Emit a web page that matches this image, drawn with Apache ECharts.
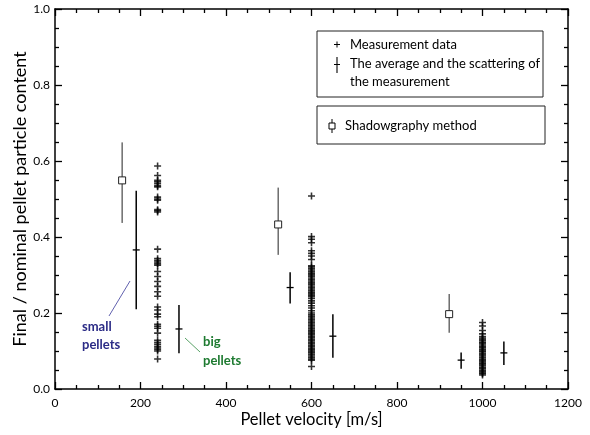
<!DOCTYPE html>
<html><head><meta charset="utf-8">
<script src="https://cdn.jsdelivr.net/npm/echarts@6/dist/echarts.min.js"></script>
<style>html,body{margin:0;padding:0;background:#fff}#c{width:590px;height:435px}</style>
</head><body><div id="c"></div>
<script>
// Measurement data (individual points)
const meas240 = [0.587, 0.562, 0.549, 0.545, 0.540, 0.535, 0.532, 0.505, 0.500, 0.497, 0.472, 0.469, 0.466,
  0.368, 0.343, 0.338, 0.334, 0.330, 0.326, 0.309, 0.296, 0.283, 0.270, 0.256, 0.244, 0.216, 0.208, 0.197, 0.190,
  0.170, 0.165, 0.160, 0.147, 0.128, 0.122, 0.117, 0.112, 0.108, 0.104, 0.100, 0.079];
const meas600 = [0.508, 0.401, 0.394, 0.385, 0.364, 0.357, 0.350, 0.341, 0.324, 0.321, 0.317, 0.313, 0.309, 0.305,
  0.301, 0.297, 0.292, 0.288, 0.284, 0.280, 0.276, 0.271, 0.267, 0.263, 0.259, 0.255, 0.251, 0.247, 0.243, 0.238,
  0.232, 0.226, 0.219, 0.213, 0.206, 0.200, 0.195, 0.191, 0.187, 0.183, 0.179, 0.175, 0.171, 0.167, 0.163, 0.159,
  0.155, 0.151, 0.147, 0.143, 0.139, 0.135, 0.131, 0.127, 0.123, 0.119, 0.115, 0.111, 0.107, 0.103, 0.099, 0.095,
  0.091, 0.087, 0.083, 0.079, 0.076, 0.059];
const meas1000 = [0.175, 0.166, 0.154, 0.145, 0.138, 0.134, 0.131, 0.127, 0.123, 0.120, 0.116, 0.112, 0.109, 0.105,
  0.101, 0.098, 0.094, 0.090, 0.087, 0.083, 0.079, 0.076, 0.072, 0.068, 0.065, 0.061, 0.057, 0.054, 0.050, 0.047,
  0.043, 0.040, 0.037];
const measGroups = [[240, meas240], [600, meas600], [1000, meas1000]];

// Average and scattering of the measurement
const avgX = [190, 290, 550, 650, 950, 1050];
const avgMean = [0.366, 0.158, 0.267, 0.139, 0.076, 0.095];
const avgLow = [0.210, 0.094, 0.225, 0.082, 0.053, 0.063];
const avgHigh = [0.522, 0.221, 0.307, 0.197, 0.096, 0.125];

// Shadowgraphy method
const shadowX = [157, 522, 922];
const shadowY = [0.549, 0.433, 0.197];
const shadowLow = [0.437, 0.353, 0.148];
const shadowHigh = [0.649, 0.530, 0.250];

// Axes
const xTicks = [0, 200, 400, 600, 800, 1000, 1200];
const yTicks = [0.0, 0.2, 0.4, 0.6, 0.8, 1.0];

const FONT = 'Lato';
const measData = [];
measGroups.forEach(([x, ys]) => ys.forEach(y => measData.push([x, y])));
const avgData = avgX.map((x, i) => [x, avgMean[i], avgLow[i], avgHigh[i]]);
const shadowData = shadowX.map((x, i) => [x, shadowY[i], shadowLow[i], shadowHigh[i]]);

const plus = 'path://M-0.9,-4H0.9V-0.9H4V0.9H0.9V4H-0.9V0.9H-4V-0.9H-0.9Z';

function axisCommon(extra) {
  return Object.assign({
    axisLine: {show: true, onZero: false, lineStyle: {color: '#000', width: 1.5}},
    axisTick: {show: true, inside: true, length: 7, lineStyle: {color: '#000', width: 1.3}},
    minorTick: {show: true, splitNumber: 4, length: 4, lineStyle: {color: '#000', width: 1.3}},
    splitLine: {show: false},
  }, extra);
}

const chart = echarts.init(document.getElementById('c'), null, {renderer: 'canvas'});
chart.setOption({
  animation: false,
  textStyle: {fontFamily: FONT},
  grid: {left: 55, right: 22, top: 9, bottom: 46, containLabel: false, outerBoundsMode: 'none'},
  xAxis: [
    axisCommon({type: 'value', min: xTicks[0], max: xTicks[xTicks.length - 1], interval: 200,
      axisLabel: {show: true, color: '#000', fontSize: 12, fontFamily: FONT, margin: 8, formatter: v => String(v)},
      name: 'Pellet velocity [m/s]', nameLocation: 'middle', nameGap: 22, nameMoveOverlap: false,
      nameTextStyle: {fontSize: 16.5, color: '#000', fontFamily: FONT, verticalAlign: 'top'}}),
    axisCommon({type: 'value', position: 'top', min: xTicks[0], max: xTicks[xTicks.length - 1], interval: 200,
      axisLabel: {show: false}})
  ],
  yAxis: [
    axisCommon({type: 'value', min: yTicks[0], max: yTicks[yTicks.length - 1], interval: 0.2,
      axisLabel: {show: true, color: '#000', fontSize: 12, fontFamily: FONT, margin: 5,
        formatter: v => v.toFixed(1)},
      name: 'Final / nominal pellet particle content', nameLocation: 'middle', nameGap: 26, nameMoveOverlap: false,
      nameTextStyle: {fontSize: 18, color: '#000', fontFamily: FONT}}),
    axisCommon({type: 'value', position: 'right', min: yTicks[0], max: yTicks[yTicks.length - 1], interval: 0.2,
      axisLabel: {show: false}})
  ],
  series: [
    {
      type: 'scatter', name: 'Measurement data', data: measData, symbol: plus, symbolSize: 7,
      itemStyle: {color: '#000'}, silent: true, z: 3
    },
    {
      type: 'custom', name: 'Average', data: avgData, silent: true, z: 4,
      renderItem: (params, api) => {
        const x = api.value(0);
        const m = api.coord([x, api.value(1)]);
        const lo = api.coord([x, api.value(2)]);
        const hi = api.coord([x, api.value(3)]);
        return {type: 'group', children: [
          {type: 'line', shape: {x1: m[0], y1: lo[1], x2: m[0], y2: hi[1]}, style: {stroke: '#000', lineWidth: 1.5}},
          {type: 'line', shape: {x1: m[0] - 3.5, y1: m[1], x2: m[0] + 3.5, y2: m[1]}, style: {stroke: '#000', lineWidth: 1.3}}
        ]};
      }
    },
    {
      type: 'custom', name: 'Shadowgraphy', data: shadowData, silent: true, z: 5,
      renderItem: (params, api) => {
        const x = api.value(0);
        const m = api.coord([x, api.value(1)]);
        const lo = api.coord([x, api.value(2)]);
        const hi = api.coord([x, api.value(3)]);
        return {type: 'group', children: [
          {type: 'line', shape: {x1: m[0], y1: lo[1], x2: m[0], y2: hi[1]}, style: {stroke: '#222', lineWidth: 1}},
          {type: 'rect', shape: {x: m[0] - 3.5, y: m[1] - 3.5, width: 7, height: 7},
            style: {fill: '#fff', stroke: '#222', lineWidth: 1}}
        ]};
      }
    }
  ],
  graphic: [
    // legend box 1
    {type: 'rect', shape: {x: 317, y: 31, width: 226, height: 66}, style: {fill: '#fff', stroke: '#222', lineWidth: 1}, z: 10},
    {type: 'line', shape: {x1: 334, y1: 44.5, x2: 340, y2: 44.5}, style: {stroke: '#000', lineWidth: 1}, z: 11},
    {type: 'line', shape: {x1: 337, y1: 41.5, x2: 337, y2: 47.5}, style: {stroke: '#000', lineWidth: 1}, z: 11},
    {type: 'line', shape: {x1: 337, y1: 57, x2: 337, y2: 73}, style: {stroke: '#000', lineWidth: 1.1}, z: 11},
    {type: 'line', shape: {x1: 334, y1: 64.5, x2: 340, y2: 64.5}, style: {stroke: '#000', lineWidth: 1}, z: 11},
    {type: 'text', x: 350, y: 45, style: {text: 'Measurement data', font: '13px ' + FONT, fill: '#000', textVerticalAlign: 'middle'}, z: 11},
    {type: 'text', x: 350, y: 64, style: {text: 'The average and the scattering of', font: '13px ' + FONT, fill: '#000', textVerticalAlign: 'middle'}, z: 11},
    {type: 'text', x: 350, y: 82, style: {text: 'the measurement', font: '13px ' + FONT, fill: '#000', textVerticalAlign: 'middle'}, z: 11},
    // legend box 2
    {type: 'rect', shape: {x: 317, y: 106, width: 228, height: 38}, style: {fill: '#fff', stroke: '#222', lineWidth: 1}, z: 10},
    {type: 'line', shape: {x1: 332, y1: 119, x2: 332, y2: 133}, style: {stroke: '#000', lineWidth: 1}, z: 11},
    {type: 'rect', shape: {x: 329, y: 123, width: 6, height: 6}, style: {fill: '#fff', stroke: '#000', lineWidth: 1}, z: 12},
    {type: 'text', x: 345, y: 126, style: {text: 'Shadowgraphy method', font: '13px ' + FONT, fill: '#000', textVerticalAlign: 'middle'}, z: 11},
    // annotations
    {type: 'line', shape: {x1: 109, y1: 316, x2: 130, y2: 281}, style: {stroke: '#3a3a9a', lineWidth: 0.8}, z: 11},
    {type: 'text', x: 82, y: 327, style: {text: 'small', font: 'bold 13px ' + FONT, fill: '#2b2b86', textVerticalAlign: 'middle'}, z: 11},
    {type: 'text', x: 82, y: 345, style: {text: 'pellets', font: 'bold 13px ' + FONT, fill: '#2b2b86', textVerticalAlign: 'middle'}, z: 11},
    {type: 'line', shape: {x1: 185, y1: 338, x2: 200, y2: 352}, style: {stroke: '#2f8a40', lineWidth: 0.8}, z: 11},
    {type: 'text', x: 203, y: 342, style: {text: 'big', font: 'bold 13px ' + FONT, fill: '#1d7a30', textVerticalAlign: 'middle'}, z: 11},
    {type: 'text', x: 203, y: 361, style: {text: 'pellets', font: 'bold 13px ' + FONT, fill: '#1d7a30', textVerticalAlign: 'middle'}, z: 11}
  ]
});
</script>
</body></html>
